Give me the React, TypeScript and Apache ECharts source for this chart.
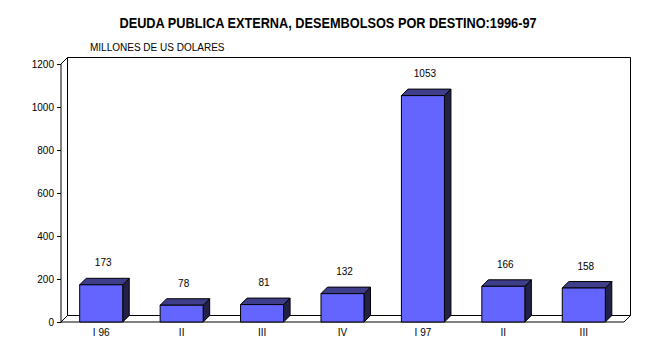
import React, { useEffect, useRef } from "react";
import * as echarts from "echarts";

const TITLE = "DEUDA PUBLICA EXTERNA, DESEMBOLSOS POR DESTINO:1996-97";
const SUBTITLE = "MILLONES DE US DOLARES";
const categories = ["I 96", "II", "III", "IV", "I 97", "II", "III"];
const values = [173, 78, 81, 132, 1053, 166, 158];
const yMin = 0;
const yMax = 1200;
const yInterval = 200;

const DX = 6.5;
const DY = -6.5;
const FRONT = "#6464FF";
const TOP = "#3E3E8A";
const SIDE = "#222248";
const FONT = '"Liberation Sans", Arial, sans-serif';

export default function App() {
  const ref = useRef<HTMLDivElement>(null);
  useEffect(() => {
    if (!ref.current) return;
    const chart = echarts.init(ref.current, undefined, { renderer: "svg" });
    chart.setOption({
      animation: false,
      backgroundColor: "#ffffff",
      title: [
        {
          text: SUBTITLE,
          left: 90,
          top: 42,
          padding: 0,
          textStyle: { fontFamily: FONT, fontWeight: "normal", fontSize: 10, color: "#000" },
        },
      ],
      graphic: [
        {
          type: "text",
          x: 328,
          y: 23,
          scaleX: 0.91,
          style: {
            text: TITLE,
            x: 0,
            y: 0,
            align: "center",
            verticalAlign: "middle",
            fill: "#000",
            font: `bold 14px ${FONT}`,
          },
        },
      ],
      grid: { left: 61, top: 64, width: 563, height: 258, containLabel: false },
      xAxis: {
        type: "category",
        data: categories,
        axisLine: { show: false },
        axisTick: { show: false },
        axisLabel: { margin: 5, fontSize: 10, color: "#000", fontFamily: FONT },
        splitLine: { show: false },
      },
      yAxis: {
        type: "value",
        min: yMin,
        max: yMax,
        interval: yInterval,
        axisLine: { show: true, lineStyle: { color: "#000", width: 1 } },
        axisTick: { show: true, length: 4, lineStyle: { color: "#000" } },
        axisLabel: {
          margin: 7,
          fontSize: 10,
          color: "#000",
          fontFamily: FONT,
          formatter: (v: number) => String(v),
        },
        splitLine: { show: false },
      },
      series: [
        {
          type: "custom",
          z: 1,
          clip: false,
          silent: true,
          data: [[0, 0]],
          renderItem: (params: any) => {
            const cs = params.coordSys;
            const x0 = cs.x, y0 = cs.y, x1 = cs.x + cs.width, y1 = cs.y + cs.height;
            const st = { fill: "#fff", stroke: "#000", lineWidth: 1 };
            return {
              type: "group",
              children: [
                { type: "rect", shape: { x: x0 + DX, y: y0 + DY, width: x1 - x0, height: y1 - y0 }, style: st },
                { type: "polygon", shape: { points: [[x0, y0], [x0 + DX, y0 + DY], [x0 + DX, y1 + DY], [x0, y1]] }, style: st },
                { type: "polygon", shape: { points: [[x0, y1], [x0 + DX, y1 + DY], [x1 + DX, y1 + DY], [x1, y1]] }, style: st },
              ],
            };
          },
        },
        {
          type: "custom",
          z: 3,
          clip: false,
          data: values.map((v, i) => [i, v]),
          renderItem: (params: any, api: any) => {
            const i = api.value(0);
            const v = api.value(1);
            const top = api.coord([i, v]);
            const base = api.coord([i, 0]);
            const w = api.size([1, 0])[0] * 0.535;
            const xl = top[0] - w / 2;
            const xr = top[0] + w / 2;
            const yt = top[1];
            const yb = base[1];
            const st = { stroke: "#000", lineWidth: 1 };
            return {
              type: "group",
              children: [
                { type: "polygon", shape: { points: [[xr, yb], [xr + DX, yb + DY], [xr + DX, yt + DY], [xr, yt]] }, style: { ...st, fill: SIDE } },
                { type: "polygon", shape: { points: [[xl, yt], [xl + DX, yt + DY], [xr + DX, yt + DY], [xr, yt]] }, style: { ...st, fill: TOP } },
                { type: "rect", shape: { x: xl, y: yt, width: w, height: yb - yt }, style: { ...st, fill: FRONT } },
                {
                  type: "text",
                  style: {
                    text: String(v),
                    x: top[0] + 2,
                    y: yt - 22,
                    align: "center",
                    verticalAlign: "middle",
                    fill: "#000",
                    font: `10px ${FONT}`,
                  },
                },
              ],
            };
          },
        },
      ],
    });
    return () => chart.dispose();
  }, []);
  return (
    <div
      ref={ref}
      style={{ position: "fixed", left: 0, top: 0, width: 657, height: 363 }}
    />
  );
}
